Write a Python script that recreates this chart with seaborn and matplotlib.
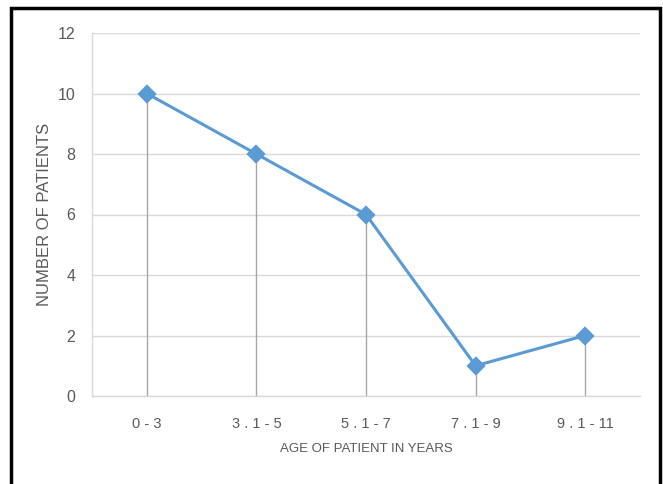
import matplotlib
matplotlib.use("Agg")
import matplotlib.pyplot as plt
import seaborn as sns
import pandas as pd
from matplotlib.patches import Rectangle

categories = ["0 - 3", "3 . 1 - 5", "5 . 1 - 7", "7 . 1 - 9", "9 . 1 - 11"]
patients = [10, 8, 6, 1, 2]
y_ticks = [0, 2, 4, 6, 8, 10, 12]

sns.set_theme(style="white")
plt.rcParams['font.family'] = ['Liberation Sans Narrow', 'Liberation Sans', 'DejaVu Sans']

df = pd.DataFrame({"age": categories, "n": patients})

fig = plt.figure(figsize=(6.63, 4.84), dpi=100)
ax = fig.add_axes([92/663, 1-396/484, (640-92)/663, (396-33)/484])

ax.yaxis.grid(True, color="#d9d9d9", lw=1)
ax.set_axisbelow(True)

# drop lines
ax.vlines(range(len(categories)), 0, patients, colors="#a6a6a6", lw=1, zorder=1)

sns.pointplot(data=df, x="age", y="n", ax=ax, color="#5b9bd5", markers="D",
              markersize=8, linewidth=2.2, zorder=3)

ax.set_ylim(0, 12)
ax.set_yticks(y_ticks)
ax.set_xlim(-0.5, len(categories) - 0.5)

for s in ["top", "right"]:
    ax.spines[s].set_visible(False)
ax.spines["left"].set_color("#d9d9d9")
ax.spines["bottom"].set_color("#d9d9d9")
ax.spines["left"].set_linewidth(1)
ax.spines["bottom"].set_linewidth(1)

ax.tick_params(axis="y", length=0, pad=12, labelsize=11.5, labelcolor="#595959")
ax.tick_params(axis="x", length=0, pad=15, labelsize=10.5, labelcolor="#595959")

ax.set_xlabel("AGE OF PATIENT IN YEARS", fontsize=9.5, color="#595959", labelpad=9)
ax.set_ylabel("NUMBER OF PATIENTS", fontsize=12, color="#595959", labelpad=4)

fig.patches.append(Rectangle((11/663, -0.05), (660-11)/663, 1.05 - 8/484,
                             transform=fig.transFigure, fill=False,
                             edgecolor="black", lw=2.5))

fig.savefig("out.png", dpi=100)
